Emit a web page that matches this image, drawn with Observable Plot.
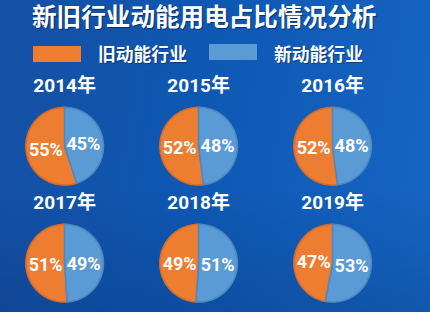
<!DOCTYPE html>
<html><head><meta charset="utf-8">
<script src="https://cdn.jsdelivr.net/npm/d3@7"></script>
<script src="https://cdn.jsdelivr.net/npm/@observablehq/plot@0.6"></script>
<style>
html,body{margin:0;padding:0;background:#0f58b2;}
#wrap{width:430px;height:312px;position:relative;overflow:hidden;
  background:linear-gradient(180deg, rgba(0,0,0,0) 60%, rgba(0,20,70,0.18) 100%),
             linear-gradient(100deg,#164fa3 0%,#0e58b3 45%,#1666c3 100%);
  font-family:"Noto Sans CJK SC",sans-serif;color:#fff;}
#title{position:absolute;left:32px;top:0;height:32px;line-height:30px;font-size:24.6px;font-weight:bold;
  white-space:nowrap;text-shadow:1px 1px 1px rgba(0,0,30,0.45);}
.sw{position:absolute;width:48px;height:16px;}
.lab{position:absolute;font-size:17.8px;font-weight:bold;line-height:20px;white-space:nowrap;text-shadow:1px 1px 1px rgba(0,0,30,0.35);}
#chart{position:absolute;left:0;top:68px;}
#chart svg{background:transparent !important;overflow:visible;}
</style></head><body>
<div id="wrap">
  <div id="title">新旧行业动能用电占比情况分析</div>
  <div id="legend"></div>
  <div id="chart"></div>
</div>
<script>
// ---- data ----
const years = ["2014年","2015年","2016年","2017年","2018年","2019年"];
const oldShare = [55,52,52,51,49,47];   // 旧动能行业 (%)
const newShare = [45,48,48,49,51,53];   // 新动能行业 (%)
const seriesNames = ["旧动能行业","新动能行业"];
const seriesColors = ["#ED7D31","#5B9BD5"];
const seriesStrokes = ["#d56d28","#4d88c2"];

// ---- legend (HTML, above the svg) ----
const legend = document.getElementById("legend");
const legendPos = [{sx:33,sy:46,lx:98},{sx:209,sy:44,lx:274}];
seriesNames.forEach((name,i)=>{
  const sw=document.createElement("div");sw.className="sw";
  sw.style.left=legendPos[i].sx+"px";sw.style.top=legendPos[i].sy+"px";sw.style.background=seriesColors[i];
  legend.appendChild(sw);
  const lb=document.createElement("div");lb.className="lab";lb.textContent=name;
  lb.style.left=legendPos[i].lx+"px";lb.style.top="43px";
  legend.appendChild(lb);
});

// ---- build wedges from the shares ----
const slices=[], labels=[], yearRows=[];
years.forEach((yr,i)=>{
  const col=i%3, row=Math.floor(i/3);
  yearRows.push({col,row,text:yr});
  const aN = newShare[i]/(newShare[i]+oldShare[i])*2*Math.PI;
  const segs=[
    {name:seriesNames[1], a0:0, a1:aN, v:newShare[i]},
    {name:seriesNames[0], a0:aN, a1:2*Math.PI, v:oldShare[i]}
  ];
  segs.forEach(s=>{
    const key=yr+s.name;
    const n=Math.max(2,Math.ceil((s.a1-s.a0)/(Math.PI/120)));
    slices.push({key,name:s.name,col,row,x:0,y:0});
    for(let k=0;k<=n;k++){
      const a=s.a0+(s.a1-s.a0)*k/n;
      slices.push({key,name:s.name,col,row,x:Math.sin(a),y:Math.cos(a)});
    }
    slices.push({key,name:s.name,col,row,x:0,y:0});
    const m=(s.a0+s.a1)/2;
    labels.push({col,row,x:0.49*Math.sin(m),y:0.49*Math.cos(m)-0.03,text:s.v+"%"});
  });
});

const wedgeMarks = seriesNames.map((name,i)=>
  Plot.line(slices.filter(d=>d.name===name),{
    x:"x",y:"y",z:"key",fx:"col",fy:"row",
    fill:seriesColors[i],stroke:seriesStrokes[i],strokeWidth:1.6,strokeLinejoin:"round"
  })
);

const chart = Plot.plot({
  width:430, height:244,
  marginTop:4, marginBottom:5, marginLeft:0, marginRight:25.75,
  fx:{domain:[0,1,2],padding:0,axis:null},
  fy:{domain:[0,1],padding:0,axis:null},
  x:{domain:[-1.628,1.827],axis:null},
  y:{domain:[-1.141,1.872],axis:null},
  style:{background:"transparent",overflow:"visible"},
  marks:[
    ...wedgeMarks,
    Plot.text(labels,{x:"x",y:"y",fx:"col",fy:"row",text:"text",fill:"white",
      fontSize:18,fontWeight:"bold",fontFamily:"Roboto, sans-serif"}),
    Plot.text(yearRows,{x:()=>0,y:()=>1.564,fx:"col",fy:"row",text:"text",fill:"white",
      fontSize:19,fontWeight:"bold",fontFamily:"Roboto, 'Noto Sans CJK SC', sans-serif"})
  ]
});
document.getElementById("chart").appendChild(chart);
</script>
</body></html>
